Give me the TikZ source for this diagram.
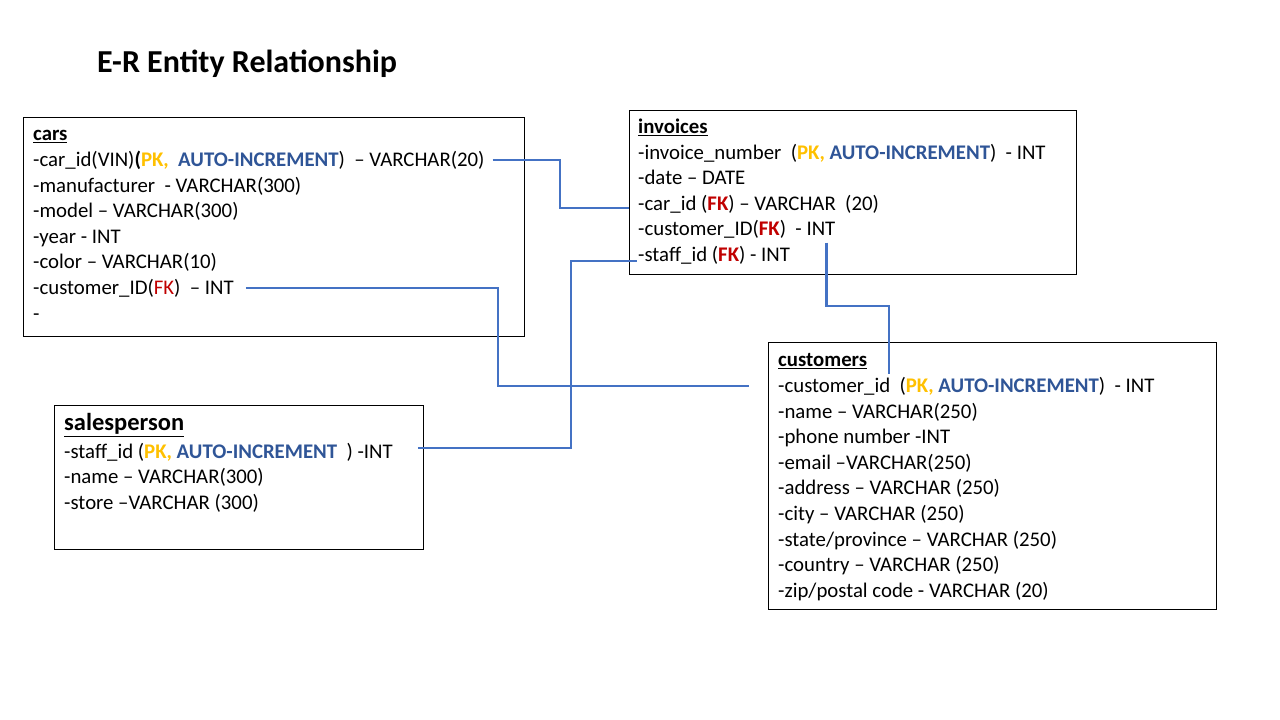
\documentclass[tikz,border=0pt]{standalone}
\usepackage{fontspec}
\setmainfont{Carlito}
\usetikzlibrary{positioning}
\definecolor{pkyellow}{HTML}{FFC000}
\definecolor{aiblue}{HTML}{2F5597}
\definecolor{fkred}{HTML}{C00000}
\definecolor{linkblue}{HTML}{4472C4}
\newcommand{\pkey}{\textbf{\color{pkyellow}PK,}}
\newcommand{\autoinc}{\textbf{\color{aiblue}AUTO-INCREMENT}}
\newcommand{\fkey}{\textbf{\color{fkred}FK}}
\tikzset{%
  every table/.style={
    draw,
    line width=1pt,
    inner sep=0pt,
    anchor=north west
  },
  row/.style={
    anchor=west,
    inner sep=0pt,
    font=\fontsize{20.8}{21}\selectfont,
    text height=18pt,
    text depth=5pt
  },
  head/.style={row, font=\fontsize{20.8}{21}\selectfont\bfseries},
  link/.style={linkblue, line width=2.6pt},
}

\begin{document}
\begin{tikzpicture}[x=1pt, y=-1pt]
\useasboundingbox (0,0) rectangle (1280,720);

\node[font=\fontsize{32}{32}\selectfont\bfseries, anchor=west, inner sep=0pt] (title) at (97,64) {E-R Entity Relationship};

% tables
\node[every table, minimum width=501pt, minimum height=219pt] (cars) at (23,117) {};
\node[every table, minimum width=447pt, minimum height=164pt] (invoices) at (629,110) {};
\node[every table, minimum width=369pt, minimum height=144pt] (salesperson) at (54,405) {};
\node[every table, minimum width=448pt, minimum height=267pt] (customers) at (768,342) {};

% cars
\node[head] (cars-h) at (33,134) {\underline{cars}};
\node[row] (cars-1) at (33,160) {-car\_id(VIN)\textbf{(}\pkey\ \ \autoinc)\ \ -- VARCHAR(20)};
\foreach \t [count=\i from 2] in {-manufacturer\ \ - VARCHAR(300), -model -- VARCHAR(300), -year - INT, -color -- VARCHAR(10)}
    \node[row] (cars-\i) at (33,134.3+25.6*\i) {\t};
\node[row] (cars-6) at (33,288) {-customer\_ID({\color{fkred}FK})\ \ -- INT};
\node[row] (cars-7) at (33,314) {-};

% invoices
\node[head] (inv-h) at (638,127) {\underline{invoices}};
\node[row] (inv-1) at (638,153) {-invoice\_number\ \ (\pkey\ \autoinc)\ \ - INT};
\node[row] (inv-2) at (638,178) {-date -- DATE};
\node[row] (inv-3) at (638,204) {-car\_id (\fkey) -- VARCHAR\ \ (20)};
\node[row] (inv-4) at (638,229) {-customer\_ID(\fkey)\ \ - INT};
\node[row] (inv-5) at (638,255) {-staff\_id (\fkey) - INT};

% salesperson
\node[head, font=\fontsize{24.5}{25}\selectfont\bfseries] (sales-h) at (64,424) {\underline{salesperson}};
\node[row] (sales-1) at (64,452) {-staff\_id (\pkey\ \autoinc\ \ ) -INT};
\node[row] (sales-2) at (64,477) {-name -- VARCHAR(300)};
\node[row] (sales-3) at (64,503) {-store --VARCHAR (300)};

% customers
\node[head] (cust-h) at (778,360) {\underline{customers}};
\node[row] (cust-1) at (778,386) {-customer\_id\ \ (\pkey\ \autoinc)\ \ - INT};
\foreach \t [count=\i from 2] in {-name -- VARCHAR(250), -phone number -INT, -email --VARCHAR(250), -address -- VARCHAR (250), -city -- VARCHAR (250), -state/province -- VARCHAR (250), -country -- VARCHAR (250), -zip/postal code - VARCHAR (20)}
    \node[row] (cust-\i) at (778,360.3+25.6*\i) {\t};

% connectors
\coordinate (kink1) at (560,0);
\coordinate (kink2) at (498,0);
\coordinate (kink3) at (571,0);
\coordinate (kink4) at (0,306);
\coordinate (kink5) at (889,0);

\draw[link] ([xshift=8pt]cars-1.east) -- (kink1 |- cars-1) |- ([yshift=-4pt]invoices.west |- inv-3);
\draw[link] ([xshift=12pt]cars-6.east) -- (kink2 |- cars-6) |- ([xshift=-19pt]customers.west |- cust-1);
\draw[link] ([xshift=25pt, yshift=4pt]sales-1.east) -- ([yshift=4pt]kink3 |- sales-1) |- ([xshift=-1pt, yshift=-6pt]inv-5.west);
\draw[link] ([xshift=-9pt, yshift=-2pt]inv-4.south east) |- (kink5 |- kink4) -- (kink5 |- cust-1.north);
\end{tikzpicture}
\end{document}
